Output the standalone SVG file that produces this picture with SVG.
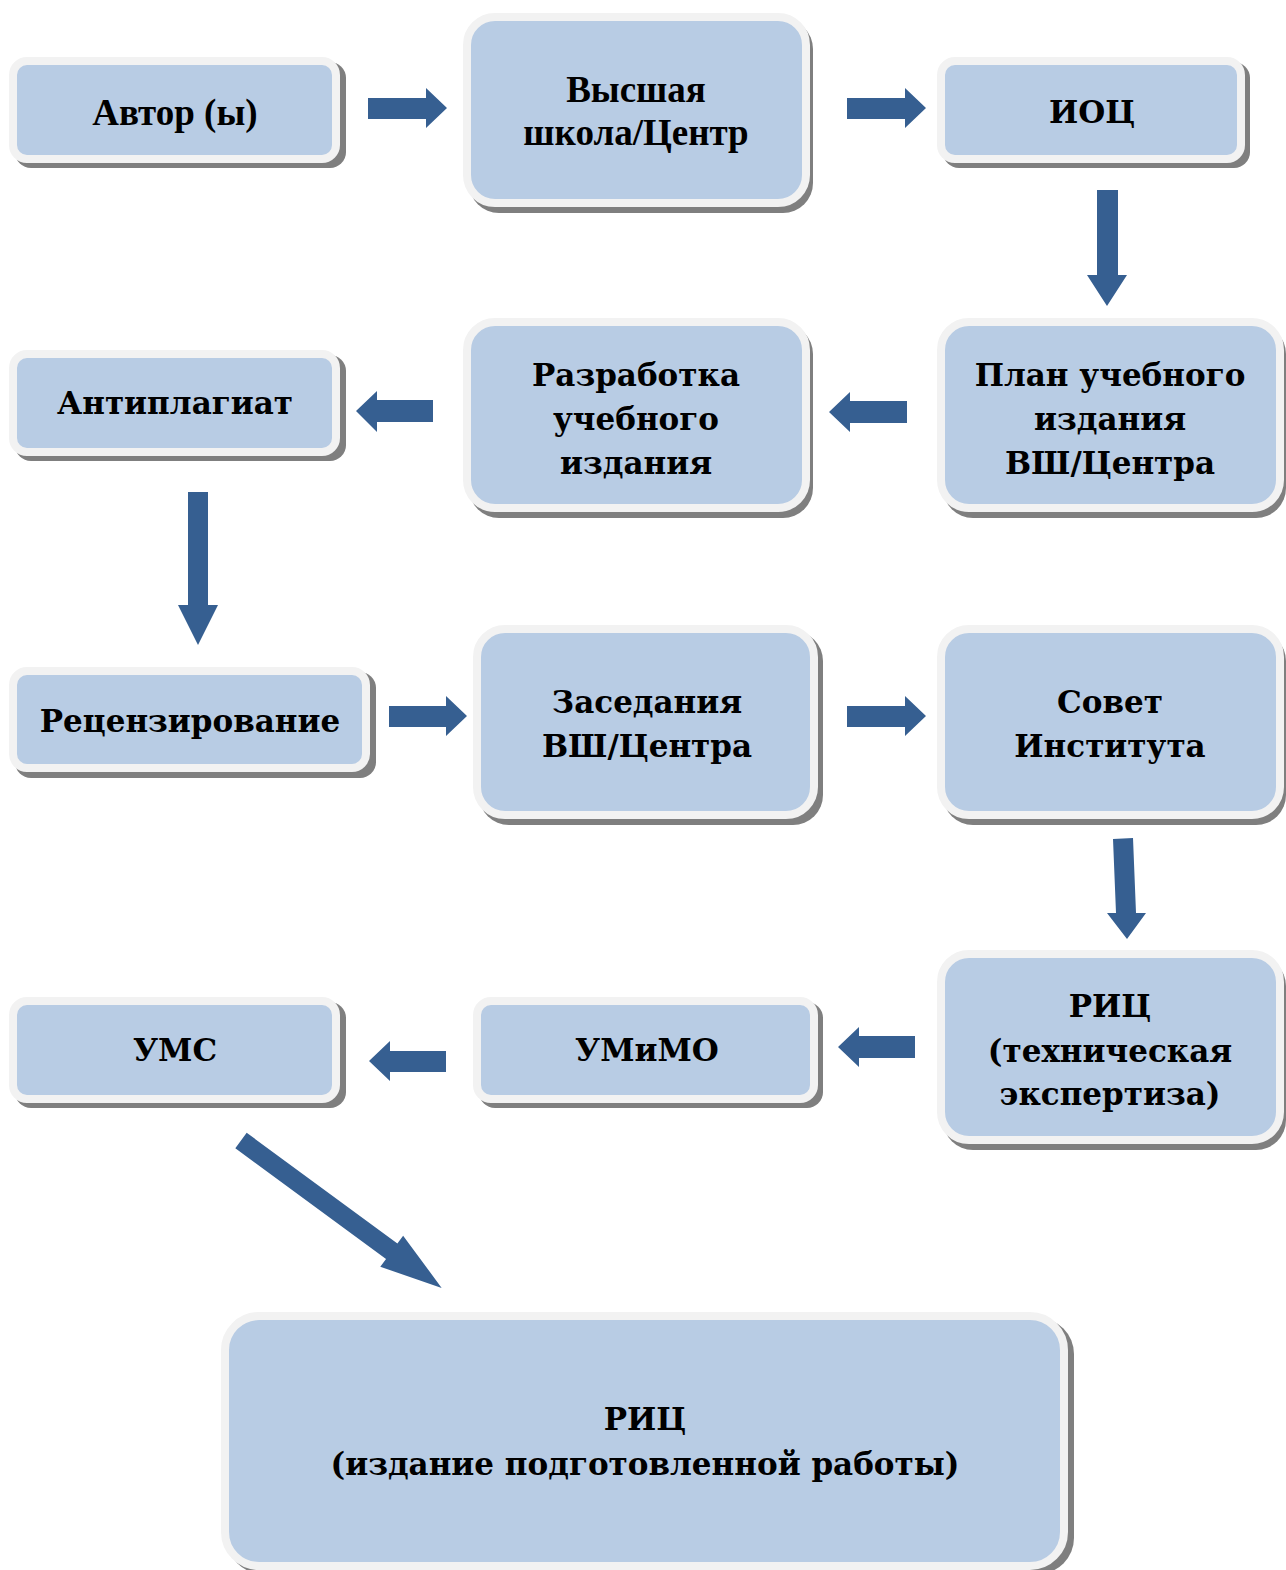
<svg xmlns="http://www.w3.org/2000/svg" width="1286" height="1570" viewBox="0 0 1286 1570">
<style>
.shadow{fill:#7f7f7f}
.box{fill:#b8cce4;stroke:#f2f2f2;stroke-width:8}
.arrow{fill:#365f91}
.t1{font-family:"Liberation Serif",serif;font-weight:bold;font-size:37px;fill:#000;text-anchor:middle}
.t2{font-family:"DejaVu Serif",serif;font-weight:bold;font-size:31px;fill:#000;text-anchor:middle}
.t3{font-family:"DejaVu Serif",serif;font-weight:bold;font-size:31px;fill:#000;text-anchor:middle}
</style>
<rect width="1286" height="1570" fill="#fff"/>
<g id="n1">
<rect class="shadow" x="15" y="62" width="331" height="106" rx="16"/>
<rect class="box" x="13" y="61" width="323" height="98" rx="14"/>
<text class="t1" x="175" y="125">Автор (ы)</text>
</g>
<g id="n2">
<rect class="shadow" x="469" y="19" width="344" height="194" rx="30"/>
<rect class="box" x="467" y="17" width="339" height="186" rx="28"/>
<text class="t1" x="636" y="102">Высшая</text>
<text class="t1" x="636" y="145">школа/Центр</text>
</g>
<g id="n3">
<rect class="shadow" x="943" y="62" width="307" height="106" rx="16"/>
<rect class="box" x="941" y="61" width="300" height="98" rx="14"/>
<text class="t2" x="1092" y="123">ИОЦ</text>
</g>
<g id="n4">
<rect class="shadow" x="15" y="355" width="331" height="106" rx="16"/>
<rect class="box" x="13" y="354" width="323" height="98" rx="14"/>
<text class="t2" x="175" y="414">Антиплагиат</text>
</g>
<g id="n5">
<rect class="shadow" x="469" y="324" width="344" height="194" rx="30"/>
<rect class="box" x="467" y="322" width="339" height="186" rx="28"/>
<text class="t2" x="636" y="386">Разработка</text>
<text class="t2" x="636" y="430">учебного</text>
<text class="t2" x="636" y="474">издания</text>
</g>
<g id="n6">
<rect class="shadow" x="943" y="324" width="343" height="194" rx="30"/>
<rect class="box" x="941" y="322" width="339" height="186" rx="28"/>
<text class="t2" x="1110" y="386">План учебного</text>
<text class="t2" x="1110" y="430">издания</text>
<text class="t2" x="1110" y="474">ВШ/Центра</text>
</g>
<g id="n7">
<rect class="shadow" x="15" y="672" width="361" height="106" rx="16"/>
<rect class="box" x="13" y="671" width="353" height="97" rx="14"/>
<text class="t2" x="190" y="732">Рецензирование</text>
</g>
<g id="n8">
<rect class="shadow" x="479" y="631" width="344" height="194" rx="30"/>
<rect class="box" x="477" y="629" width="337" height="186" rx="28"/>
<text class="t2" x="647" y="713">Заседания</text>
<text class="t2" x="647" y="757">ВШ/Центра</text>
</g>
<g id="n9">
<rect class="shadow" x="943" y="631" width="343" height="194" rx="30"/>
<rect class="box" x="941" y="629" width="339" height="186" rx="28"/>
<text class="t2" x="1110" y="713">Совет</text>
<text class="t2" x="1110" y="757">Института</text>
</g>
<g id="n10">
<rect class="shadow" x="15" y="1002" width="331" height="106" rx="16"/>
<rect class="box" x="13" y="1001" width="323" height="98" rx="14"/>
<text class="t2" x="175" y="1061">УМС</text>
</g>
<g id="n11">
<rect class="shadow" x="479" y="1002" width="344" height="106" rx="16"/>
<rect class="box" x="477" y="1001" width="337" height="98" rx="14"/>
<text class="t2" x="647" y="1061">УМиМО</text>
</g>
<g id="n12">
<rect class="shadow" x="943" y="956" width="343" height="194" rx="30"/>
<rect class="box" x="941" y="954" width="339" height="186" rx="28"/>
<text class="t2" x="1110" y="1017">РИЦ</text>
<text class="t2" x="1110" y="1062">(техническая</text>
<text class="t2" x="1110" y="1105">экспертиза)</text>
</g>
<g id="n13">
<rect class="shadow" x="227" y="1318" width="847" height="256" rx="36"/>
<rect class="box" x="225" y="1316" width="839" height="250" rx="34"/>
<text class="t3" x="645" y="1430">РИЦ</text>
<text class="t3" x="645" y="1475">(издание подготовленной работы)</text>
</g>
<g id="connectors">
<polygon class="arrow" points="368,98 426,98 426,88 447,108 426,128 426,119 368,119"/>
<polygon class="arrow" points="847,98 905,98 905,88 926,108 905,128 905,119 847,119"/>
<polygon class="arrow" points="1097,190 1118,190 1118,275 1127,275 1107,306 1087,275 1097,275"/>
<polygon class="arrow" points="907,401 850,401 850,392 829,412 850,432 850,423 907,423"/>
<polygon class="arrow" points="433,400 377,400 377,391 356,411 377,432 377,422 433,422"/>
<polygon class="arrow" points="188,492 208,492 208,605 218,605 198,645 178,605 188,605"/>
<polygon class="arrow" points="389,706 446,706 446,696 467,716 446,736 446,727 389,727"/>
<polygon class="arrow" points="847,706 905,706 905,696 926,716 905,736 905,727 847,727"/>
<polygon class="arrow" points="1113,839 1133,838 1136,913 1146,913 1127,939 1107,913 1116,913"/>
<polygon class="arrow" points="915,1036 859,1036 859,1027 838,1047 859,1067 859,1058 915,1058"/>
<polygon class="arrow" points="446,1051 390,1051 390,1041 369,1061 390,1081 390,1072 446,1072"/>
<polygon class="arrow" transform="translate(241,1140.5) rotate(36.3)" points="0,-9.6 187,-9.6 187,-19.3 249,0 187,19.3 187,9.6 0,9.6"/>
</g>
</svg>
